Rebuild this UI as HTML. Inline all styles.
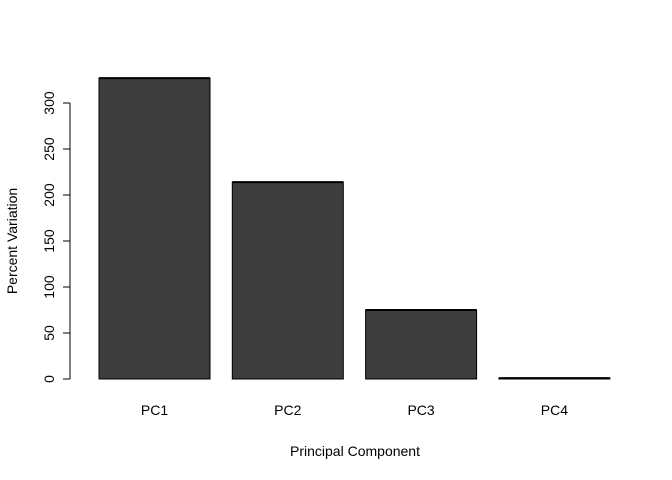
<!DOCTYPE html>
<html><head><meta charset="utf-8"><style>body{margin:0;background:#fff}svg{display:block;font-family:"Liberation Sans",Arial,sans-serif}</style></head>
<body>
<svg id="chart" width="672" height="480"></svg>
<script>
const categories = ["PC1","PC2","PC3","PC4"];
const values = [327, 214, 75, 1];
const yTicks = [0,50,100,150,200,250,300];
const NS="http://www.w3.org/2000/svg";
const svg=document.getElementById('chart');
const y0=379, pxPer=0.92;
function yScale(v){return y0 - v*pxPer;}
function xScale(i){return 99 + i*133.3;}
const bw=111;
function mk(t,a,parent){const e=document.createElementNS(NS,t);for(const k in a)e.setAttribute(k,a[k]);(parent||svg).appendChild(e);return e;}
values.forEach((v,i)=>{
  const r=mk('rect',{x:xScale(i),y:yScale(v),width:bw,height:y0-yScale(v),fill:'#3d3d3d',stroke:'#000','stroke-width':1});
  
  
  const top=mk('line',{x1:xScale(i),x2:xScale(i)+bw,y1:yScale(v),y2:yScale(v),stroke:'#000','stroke-width':2});
  
  
  const t=mk('text',{x:xScale(i)+bw/2,y:415,'text-anchor':'middle','font-size':14,fill:'#000'});
  t.textContent=categories[i];
  
  
});
const ax=mk('line',{x1:70,x2:70,y1:yScale(yTicks[0]),y2:yScale(yTicks[yTicks.length-1]),stroke:'#000'});


yTicks.forEach(v=>{
  const y=yScale(v);
  const tk=mk('line',{x1:63,x2:70,y1:y,y2:y,stroke:'#000'});
  
  
  const t=mk('text',{x:54,y:y,'text-anchor':'middle','font-size':14,transform:`rotate(-90 54 ${y})`,fill:'#000'});
  t.textContent=v;
  
  
});
const yt=mk('text',{x:17,y:241,'text-anchor':'middle','font-size':14,transform:'rotate(-90 17 241)'});
yt.textContent='Percent Variation';


const xt=mk('text',{x:355,y:456,'text-anchor':'middle','font-size':14});
xt.textContent='Principal Component';


</script>
</body></html>
